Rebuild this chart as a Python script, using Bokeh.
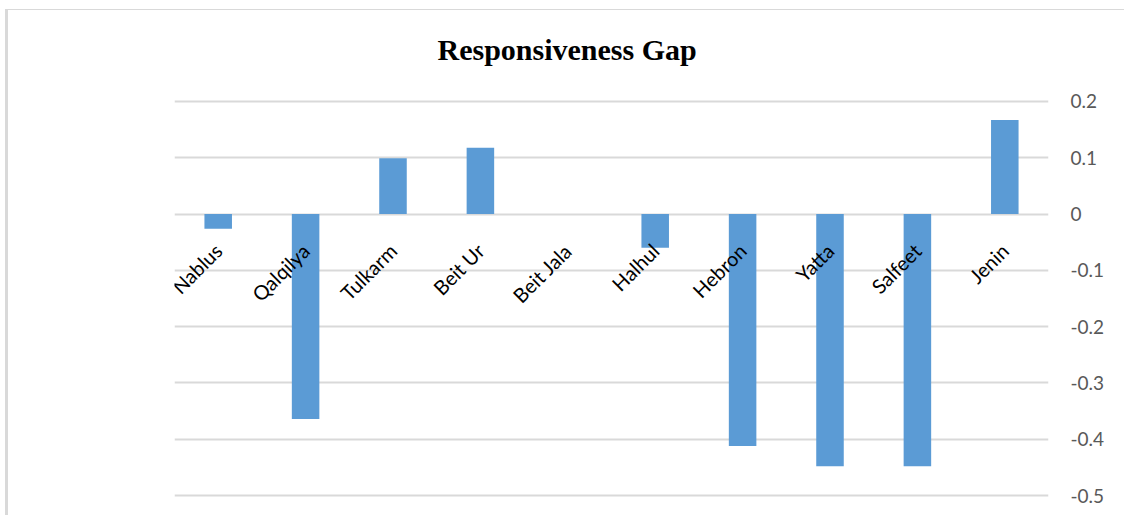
import math
from bokeh.plotting import figure
from bokeh.models import FactorRange, Range1d, FixedTicker, ColumnDataSource, Title
from bokeh.core.properties import value
from bokeh.embed import file_html
from bokeh.resources import INLINE

# ---- data ----
cities = ["Nablus", "Qalqilya", "Tulkarm", "Beit Ur", "Beit Jala",
          "Halhul", "Hebron", "Yatta", "Salfeet", "Jenin"]
gap = [-0.026, -0.364, 0.099, 0.118, 0.0, -0.060, -0.412, -0.448, -0.448, 0.167]
y_ticks = [0.2, 0.1, 0, -0.1, -0.2, -0.3, -0.4, -0.5]
y_tick_labels = ["0.2", "0.1", "0", "-0.1", "-0.2", "-0.3", "-0.4", "-0.5"]
title_text = "Responsiveness Gap"

src = ColumnDataSource(dict(city=cities, gap=gap, zero=[0] * len(cities)))

p = figure(width=1119, height=506,
           x_range=FactorRange(factors=cities),
           y_range=Range1d(-0.5035, 0.2035),
           x_axis_location=None, y_axis_location="right",
           output_backend="svg", toolbar_location=None,
           min_border_left=166, min_border_right=79,
           min_border_top=89, min_border_bottom=19)
p.margin = (9, 0, 0, 5)
p.styles = {"border-left": "3px solid #d9d9d9", "border-top": "1px solid #d9d9d9"}
p.outline_line_color = None
p.background_fill_color = "white"
p.border_fill_color = "white"

# spacer between frame and title, then the title itself
p.add_layout(Title(text=" ", text_font_size="1px", standoff=8), "above")
p.add_layout(Title(text=title_text, text_font="Liberation Serif",
                   text_font_style="bold", text_font_size="30px",
                   text_color="black", align="left", vertical_align="top",
                   offset=263, standoff=42), "above")

# grid
p.xgrid.grid_line_color = None
p.ygrid.ticker = FixedTicker(ticks=y_ticks)
p.ygrid.grid_line_color = "#d9d9d9"
p.ygrid.grid_line_width = 2

# right axis
ax = p.yaxis[0]
ax.ticker = FixedTicker(ticks=y_ticks)
ax.major_label_overrides = {t: l for t, l in zip(y_ticks, y_tick_labels)}
ax.axis_line_color = None
ax.major_tick_line_color = None
ax.minor_tick_line_color = None
ax.major_tick_out = 0
ax.major_label_standoff = 22
ax.major_label_text_font = "Lato"
ax.major_label_text_font_size = "19px"
ax.major_label_text_color = "#595959"

# bars
p.vbar(x="city", top="gap", bottom=0, width=0.315, source=src,
       fill_color="#5b9bd5", line_color=None)

# category labels next to the zero line
p.text(x="city", y="zero", text="city", source=src,
       angle=math.pi / 4, text_align="right", text_baseline="middle",
       y_offset=33, text_font=value("Lato"), text_font_size="20px",
       text_color="black")

open("out.html", "w").write(file_html(p, INLINE))
